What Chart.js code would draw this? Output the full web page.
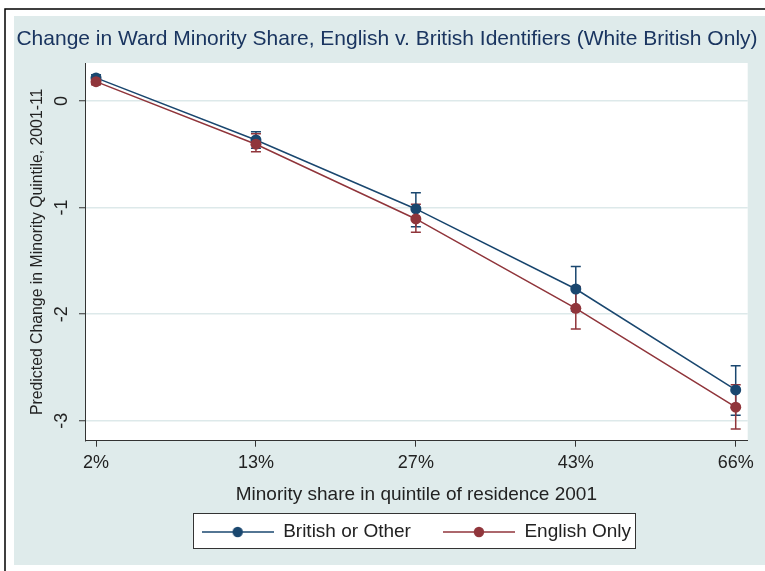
<!DOCTYPE html>
<html><head><meta charset="utf-8">
<script src="https://cdn.jsdelivr.net/npm/chart.js@4.4.1/dist/chart.umd.min.js"></script>
<style>html,body{margin:0;padding:0;background:#fff}</style>
</head><body>
<canvas id="c" width="765" height="571" style="display:block;width:765px;height:571px"></canvas>
<script>
// ---- data ----
const categories = ['2%', '13%', '27%', '43%', '66%'];
const britishValues = [0.216, -0.366, -1.013, -1.764, -2.711];
const britishLower  = [0.186, -0.444, -1.179, -1.970, -2.948];
const britishUpper  = [0.246, -0.288, -0.860, -1.554, -2.483];
const englishValues = [0.181, -0.406, -1.107, -1.945, -2.873];
const englishLower  = [0.151, -0.476, -1.232, -2.139, -3.077];
const englishUpper  = [0.211, -0.307, -0.969, -1.740, -2.661];
const yTicks = [0, -1, -2, -3];
const seriesNames = ['British or Other', 'English Only'];
const titleText = 'Change in Ward Minority Share, English v. British Identifiers (White British Only)';
const xTitleText = 'Minority share in quintile of residence 2001';
const yTitleText = 'Predicted Change in Minority Quintile, 2001-11';

// ---- styles ----
const F = "'Liberation Sans', Arial, Helvetica, sans-serif";
const BLUE = '#1a476f';
const RED = '#90353b';
const BG = '#dfebeb';
const GRID = '#dde9ea';
const AXIS = '#333333';
const TXT = '#222222';
const TITLE_C = '#1a3560';

function legendImage(color) {
  const c = document.createElement('canvas');
  c.width = 72; c.height = 12;
  const g = c.getContext('2d');
  g.strokeStyle = color; g.lineWidth = 1.5;
  g.beginPath(); g.moveTo(0, 6); g.lineTo(72, 6); g.stroke();
  g.fillStyle = color;
  g.beginPath(); g.arc(36, 6, 5.2, 0, Math.PI * 2); g.fill();
  return c;
}

const errorData = [
  {lo: britishLower, hi: britishUpper, color: BLUE},
  {lo: englishLower, hi: englishUpper, color: RED}
];

const layoutPlugin = {
  id: 'layoutTweaks',
  afterLayout(chart) {
    const a = chart.chartArea;
    const lg = chart.legend;
    const dx = (a.left + a.right) / 2 - (lg.left + lg.right) / 2;
    lg.left += dx; lg.right += dx;
    const newTop = 490.5;
    const dy = newTop - lg.top;
    lg.top += dy; lg.bottom += dy;
    const tb = chart.titleBlock;
    const tdx = 387 - (tb.left + tb.right) / 2;
    tb.left += tdx; tb.right += tdx;
  },
  beforeDraw(chart) {
    const ctx = chart.ctx, a = chart.chartArea;
    ctx.save();
    ctx.fillStyle = '#ffffff';
    ctx.fillRect(0, 0, chart.width, chart.height);
    ctx.fillStyle = BG;
    ctx.fillRect(14, 16, chart.width - 14, 549);
    ctx.strokeStyle = '#000000'; ctx.lineWidth = 1.5;
    ctx.beginPath(); ctx.moveTo(5, chart.height); ctx.lineTo(5, 9); ctx.lineTo(chart.width, 9); ctx.stroke();
    ctx.fillStyle = '#ffffff';
    ctx.fillRect(a.left, a.top, a.right - a.left, a.bottom - a.top);
    const hb = chart.legend.legendHitBoxes;
    if (hb && hb.length) {
      const cy = hb[0].top + hb[0].height / 2;
      const l = hb[0].left - 8.8;
      const last = hb[hb.length - 1];
      const r = last.left + last.width + 4;
      const t = cy - 18.7, b = cy + 16.3;
      ctx.fillStyle = '#ffffff';
      ctx.fillRect(l, t, r - l, b - t);
      ctx.strokeStyle = AXIS; ctx.lineWidth = 1;
      ctx.strokeRect(Math.round(l) + 0.5, Math.round(t) + 0.5, Math.round(r - l), Math.round(b - t));
    }
    ctx.restore();
  },
  beforeDatasetsDraw(chart) {
    const ctx = chart.ctx, xs = chart.scales.x, ys = chart.scales.y;
    ctx.save();
    ctx.lineWidth = 1.5;
    errorData.forEach(s => {
      ctx.strokeStyle = s.color;
      s.lo.forEach((lo, i) => {
        const x = xs.getPixelForValue(i);
        const y1 = ys.getPixelForValue(lo), y2 = ys.getPixelForValue(s.hi[i]);
        ctx.beginPath();
        ctx.moveTo(x, y1); ctx.lineTo(x, y2);
        ctx.moveTo(x - 5, y1); ctx.lineTo(x + 5, y1);
        ctx.moveTo(x - 5, y2); ctx.lineTo(x + 5, y2);
        ctx.stroke();
      });
    });
    ctx.restore();
  }
};

const legendImgs = [legendImage(BLUE), legendImage(RED)];

new Chart(document.getElementById('c'), {
  type: 'line',
  data: {
    datasets: [
      {label: seriesNames[0], data: britishValues.map((v, i) => ({x: i, y: v})),
       borderColor: BLUE, backgroundColor: BLUE, borderWidth: 1.5, pointRadius: 5.5,
       pointBorderWidth: 0, pointHoverRadius: 5.5, tension: 0, order: 2},
      {label: seriesNames[1], data: englishValues.map((v, i) => ({x: i, y: v})),
       borderColor: RED, backgroundColor: RED, borderWidth: 1.5, pointRadius: 5.5,
       pointBorderWidth: 0, pointHoverRadius: 5.5, tension: 0, order: 1}
    ]
  },
  options: {
    responsive: false,
    animation: false,
    devicePixelRatio: 1,
    layout: {padding: {left: 0, right: 17.3, top: 0, bottom: 0}},
    plugins: {
      tooltip: {enabled: false},
      title: {display: true, text: titleText, color: TITLE_C,
        font: {size: 21, family: F, weight: 'normal', lineHeight: 1.2},
        padding: {top: 27, bottom: 10.8}},
      legend: {
        display: true, position: 'bottom',
        labels: {
          usePointStyle: true, pointStyleWidth: 72, padding: 32,
          color: TXT, font: {size: 19, family: F},
          generateLabels: () => seriesNames.map((n, i) => ({
            text: n, pointStyle: legendImgs[i], fillStyle: 'transparent',
            strokeStyle: 'transparent', lineWidth: 0, hidden: false, datasetIndex: i, fontColor: TXT
          }))
        }
      }
    },
    scales: {
      x: {
        type: 'linear', min: -0.069, max: 4.075,
        afterBuildTicks: s => { s.ticks = categories.map((_, i) => ({value: i})); },
        afterFit: s => { s.height = 69.3; },
        grid: {drawOnChartArea: false, tickLength: 6, tickColor: AXIS, tickWidth: 1},
        border: {color: AXIS, width: 1},
        ticks: {callback: v => categories[v], color: TXT, font: {size: 18, family: F},
          padding: 5.5, maxRotation: 0, minRotation: 0, autoSkip: false},
        title: {display: true, text: xTitleText, color: TXT,
          font: {size: 19, family: F, lineHeight: 1.2}, padding: {top: 0, bottom: 3.6}}
      },
      y: {
        type: 'linear', min: -3.187, max: 0.356,
        afterBuildTicks: s => { s.ticks = yTicks.map(v => ({value: v})); },
        afterFit: s => { s.width = 85; },
        grid: {color: GRID, lineWidth: 1.5, tickLength: 6, tickColor: AXIS, tickWidth: 1},
        border: {color: AXIS, width: 1},
        ticks: {color: TXT, font: {size: 18, family: F}, padding: 9,
          minRotation: 90, maxRotation: 90, crossAlign: 'center'},
        title: {display: true, text: yTitleText, color: TXT,
          font: {size: 15.8, family: F, lineHeight: 1.2}, padding: {top: 28, bottom: 0}}
      }
    }
  },
  plugins: [layoutPlugin]
});
</script>
</body></html>
